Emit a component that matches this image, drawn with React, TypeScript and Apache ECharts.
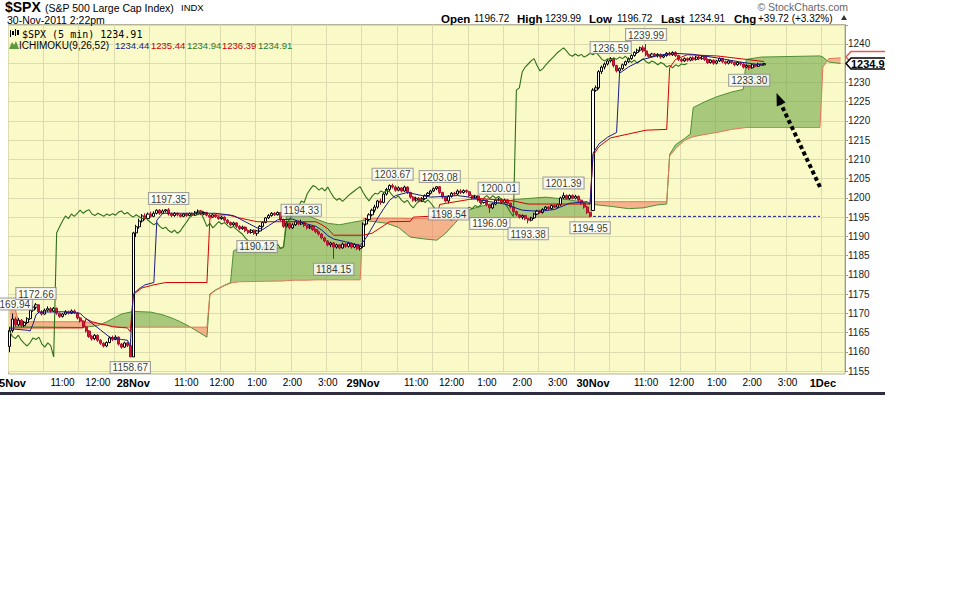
import React, { useEffect, useRef } from 'react';
import * as echarts from 'echarts';

// ---------- data ----------
const days = ['25Nov', '28Nov', '29Nov', '30Nov', '1Dec'];
const dayBars = [42, 78, 78, 78, 8];
const hourLabels = [11, 12, 13, 14, 15];

// [open, close, low, high]
const bars25Nov = [
  [1161.4,1165.5,1159.9,1166.4],[1165.5,1168.5,1165.0,1169.94],[1168.5,1167.0,1166.5,1169.0],[1167.0,1168.2,1166.6,1168.8],
  [1168.2,1166.8,1166.3,1168.5],[1166.8,1167.6,1166.4,1168.0],[1167.6,1168.6,1167.2,1169.0],[1168.6,1170.8,1168.3,1171.0],
  [1170.8,1171.6,1170.4,1172.0],[1171.6,1172.2,1171.0,1172.66],[1172.2,1170.4,1170.0,1172.3],[1170.4,1169.8,1169.4,1170.8],
  [1169.8,1170.8,1169.6,1171.2],[1170.8,1171.2,1170.4,1171.8],[1171.2,1170.6,1170.2,1171.6],[1170.6,1171.3,1170.3,1171.6],
  [1171.3,1170.0,1169.6,1171.5],[1170.0,1169.2,1168.8,1170.2],[1169.2,1169.8,1168.9,1170.1],[1169.8,1170.4,1169.5,1170.8],
  [1170.4,1170.0,1169.7,1170.7],[1170.0,1170.6,1169.8,1171.0],[1170.6,1170.1,1169.8,1171.0],[1170.1,1168.8,1168.4,1170.3],
  [1168.8,1168.0,1167.6,1169.1],[1168.0,1166.5,1166.2,1168.2],[1166.5,1165.4,1165.0,1166.8],[1165.4,1164.0,1163.6,1165.6],
  [1164.0,1163.4,1162.9,1164.3],[1163.4,1164.3,1163.0,1164.6],[1164.3,1163.0,1162.6,1164.5],[1163.0,1162.2,1161.8,1163.3],
  [1162.2,1161.5,1161.1,1162.5],[1161.5,1162.4,1161.2,1162.7],[1162.4,1163.6,1162.2,1164.0],[1163.6,1163.2,1162.8,1164.2],
  [1163.2,1163.8,1163.0,1164.3],[1163.8,1162.0,1161.6,1164.0],[1162.0,1161.2,1160.8,1162.3],[1161.2,1162.3,1161.0,1162.6],
  [1162.3,1161.6,1161.2,1162.6],[1161.6,1158.67,1158.67,1161.8],
];
const bars28Nov = [
  [1158.67,1190.9,1158.67,1191.2],[1190.9,1192.5,1189.8,1193.0],[1192.5,1194.0,1192.0,1194.6],[1194.0,1195.3,1193.6,1195.8],
  [1195.3,1194.6,1194.2,1196.0],[1194.6,1195.8,1194.4,1196.2],[1195.8,1195.2,1194.9,1196.4],[1195.2,1196.0,1195.0,1196.5],
  [1196.0,1196.8,1195.7,1197.0],[1196.8,1196.0,1195.6,1197.1],[1196.0,1196.6,1195.8,1197.0],[1196.6,1196.9,1196.2,1197.1],
  [1196.9,1195.8,1195.4,1197.35],[1195.8,1195.4,1195.0,1196.2],[1195.4,1196.0,1195.1,1196.3],[1196.0,1195.6,1195.2,1196.2],
  [1195.6,1195.2,1194.9,1195.9],[1195.2,1195.8,1195.0,1196.0],[1195.8,1195.4,1195.1,1196.1],[1195.4,1195.9,1195.2,1196.2],
  [1195.9,1195.5,1195.2,1196.2],[1195.5,1196.3,1195.3,1196.6],[1196.3,1196.6,1196.0,1197.0],[1196.6,1195.8,1195.5,1196.9],
  [1195.8,1196.2,1195.5,1196.5],[1196.2,1195.5,1195.2,1196.4],[1195.5,1195.0,1194.7,1195.8],[1195.0,1195.6,1194.8,1195.9],
  [1195.6,1195.1,1194.8,1195.9],[1195.1,1194.6,1194.3,1195.4],[1194.6,1195.0,1194.3,1195.3],[1195.0,1194.2,1193.8,1195.2],
  [1194.2,1193.6,1193.2,1194.5],[1193.6,1193.0,1192.6,1193.9],[1193.0,1193.5,1192.7,1193.8],[1193.5,1192.6,1192.2,1193.7],
  [1192.6,1192.0,1191.6,1192.9],[1192.0,1192.4,1191.7,1192.8],[1192.4,1191.5,1191.1,1192.6],[1191.5,1191.0,1190.6,1191.8],
  [1191.0,1191.6,1190.7,1191.9],[1191.6,1190.8,1190.4,1191.8],[1190.8,1191.4,1190.12,1191.6],[1191.4,1192.6,1191.2,1192.9],
  [1192.6,1193.6,1192.3,1193.9],[1193.6,1194.8,1193.4,1195.0],[1194.8,1195.4,1194.5,1195.8],[1195.4,1196.0,1195.1,1196.3],
  [1196.0,1195.6,1195.3,1196.3],[1195.6,1196.2,1195.4,1196.5],[1196.2,1194.4,1194.0,1196.3],[1194.4,1192.6,1192.2,1194.6],
  [1192.6,1193.4,1192.2,1193.8],[1193.4,1192.2,1191.8,1193.6],[1192.2,1193.0,1191.9,1193.4],[1193.0,1193.8,1192.7,1194.1],
  [1193.8,1193.2,1192.9,1194.1],[1193.2,1193.6,1192.9,1194.33],[1193.6,1192.8,1192.4,1193.8],[1192.8,1192.2,1191.8,1193.0],
  [1192.2,1192.6,1191.9,1193.0],[1192.6,1191.8,1191.4,1192.8],[1191.8,1191.2,1190.8,1192.0],[1191.2,1190.6,1190.2,1191.5],
  [1190.6,1189.6,1189.2,1190.8],[1189.6,1188.8,1188.4,1189.9],[1188.8,1187.8,1187.4,1189.0],[1187.8,1188.3,1187.2,1188.6],
  [1188.3,1187.2,1184.15,1188.5],[1187.2,1187.8,1186.8,1188.1],[1187.8,1187.0,1186.6,1188.0],[1187.0,1188.0,1186.8,1188.4],
  [1188.0,1187.4,1187.0,1188.3],[1187.4,1188.2,1187.1,1188.6],[1188.2,1187.2,1186.8,1188.4],[1187.2,1187.9,1186.9,1188.2],
  [1187.9,1186.8,1186.4,1188.0],[1186.8,1187.4,1186.3,1187.8],
];
const bars29Nov = [
  [1187.4,1193.2,1187.0,1193.6],[1193.2,1194.4,1192.8,1194.8],[1194.4,1195.6,1194.0,1196.0],[1195.6,1196.8,1195.2,1197.2],
  [1196.8,1197.6,1196.2,1198.2],[1197.6,1199.2,1197.2,1199.5],[1199.2,1198.8,1198.2,1199.8],[1198.8,1201.0,1198.6,1201.4],
  [1201.0,1202.2,1200.6,1202.6],[1202.2,1203.2,1201.8,1203.5],[1203.2,1202.8,1202.4,1203.67],[1202.8,1202.0,1201.6,1203.2],
  [1202.0,1202.6,1201.7,1203.0],[1202.6,1201.8,1201.4,1202.8],[1201.8,1202.8,1201.5,1203.2],[1202.8,1201.4,1201.0,1203.0],
  [1201.4,1200.2,1199.8,1201.6],[1200.2,1199.4,1199.0,1200.5],[1199.4,1199.9,1199.0,1200.3],[1199.9,1199.1,1198.8,1200.2],
  [1199.1,1199.8,1198.9,1200.2],[1199.8,1200.6,1199.5,1200.9],[1200.6,1201.2,1200.3,1201.5],[1201.2,1201.8,1200.9,1202.1],
  [1201.8,1202.4,1201.5,1202.7],[1202.4,1202.9,1202.0,1203.0],[1202.9,1201.4,1201.0,1203.08],[1201.4,1200.2,1199.8,1201.6],
  [1200.2,1199.2,1198.8,1200.4],[1199.2,1200.4,1198.54,1200.7],[1200.4,1201.2,1200.1,1201.5],[1201.2,1201.0,1200.6,1201.6],
  [1201.0,1201.8,1200.7,1202.2],[1201.8,1201.4,1201.0,1202.3],[1201.4,1201.9,1201.1,1202.2],[1201.9,1201.6,1201.2,1202.2],
  [1201.6,1200.6,1200.2,1201.8],[1200.6,1200.0,1199.6,1200.9],[1200.0,1200.5,1199.7,1200.8],[1200.5,1199.4,1199.0,1200.7],
  [1199.4,1198.8,1198.4,1199.7],[1198.8,1199.4,1198.5,1199.7],[1199.4,1198.2,1197.8,1199.6],[1198.2,1197.4,1196.09,1198.4],
  [1197.4,1198.4,1197.1,1198.7],[1198.4,1199.4,1198.1,1199.7],[1199.4,1199.6,1199.1,1200.01],[1199.6,1198.8,1198.4,1199.9],
  [1198.8,1199.5,1198.5,1199.8],[1199.5,1198.6,1198.2,1199.7],[1198.6,1197.6,1197.2,1198.8],[1197.6,1196.4,1196.0,1197.8],
  [1196.4,1195.6,1195.2,1196.7],[1195.6,1195.0,1194.6,1195.8],[1195.0,1195.4,1194.4,1195.7],[1195.4,1194.6,1194.2,1195.6],
  [1194.6,1194.2,1193.38,1194.8],[1194.2,1194.8,1193.9,1195.1],[1194.8,1195.8,1194.5,1196.1],[1195.8,1196.6,1195.5,1196.9],
  [1196.6,1196.2,1195.9,1196.9],[1196.2,1197.0,1195.9,1197.3],[1197.0,1197.6,1196.7,1197.9],[1197.6,1197.2,1196.9,1197.9],
  [1197.2,1198.0,1196.9,1198.3],[1198.0,1197.6,1197.3,1198.3],[1197.6,1198.2,1197.3,1198.5],[1198.2,1200.0,1197.9,1200.3],
  [1200.0,1200.6,1199.6,1201.39],[1200.6,1199.8,1199.5,1200.9],[1199.8,1200.6,1199.5,1200.9],[1200.6,1199.9,1199.6,1200.9],
  [1199.9,1200.4,1199.6,1200.8],[1200.4,1199.4,1199.0,1200.6],[1199.4,1198.6,1198.2,1199.6],[1198.6,1197.6,1197.2,1198.8],
  [1197.6,1196.2,1195.8,1197.9],[1196.2,1195.19,1194.95,1196.4],
];
const bars30Nov = [
  [1196.72,1228.0,1196.72,1228.5],[1228.0,1228.6,1227.6,1229.2],[1228.6,1232.8,1228.2,1233.2],[1232.8,1234.0,1232.2,1234.4],
  [1234.0,1234.8,1233.4,1235.2],[1234.8,1235.6,1234.4,1236.0],[1235.6,1236.2,1235.2,1236.59],[1236.2,1234.4,1233.9,1236.4],
  [1234.4,1233.0,1232.6,1234.6],[1233.0,1233.6,1232.4,1233.9],[1233.6,1234.6,1233.3,1234.9],[1234.6,1235.4,1234.3,1235.7],
  [1235.4,1236.2,1235.1,1236.5],[1236.2,1237.0,1235.9,1237.3],[1237.0,1237.8,1236.7,1238.1],[1237.8,1238.4,1237.4,1238.8],
  [1238.4,1239.0,1238.0,1239.3],[1239.0,1238.2,1237.8,1239.6],[1238.2,1237.2,1236.8,1239.99],[1237.2,1236.8,1236.4,1237.5],
  [1236.8,1237.4,1236.5,1237.7],[1237.4,1236.9,1236.6,1237.7],[1236.9,1237.3,1236.5,1237.6],[1237.3,1236.6,1236.2,1237.5],
  [1236.6,1237.0,1236.3,1237.3],[1237.0,1237.6,1236.7,1237.9],[1237.6,1237.2,1236.9,1238.0],[1237.2,1237.8,1236.9,1238.1],
  [1237.8,1237.0,1236.6,1238.1],[1237.0,1236.0,1235.6,1237.2],[1236.0,1235.6,1235.2,1236.3],[1235.6,1236.2,1235.3,1236.5],
  [1236.2,1235.8,1235.4,1236.5],[1235.8,1236.4,1235.5,1236.7],[1236.4,1236.0,1235.6,1236.8],[1236.0,1236.6,1235.7,1236.9],
  [1236.6,1236.2,1235.8,1236.9],[1236.2,1236.8,1235.9,1237.1],[1236.8,1236.0,1235.6,1237.0],[1236.0,1235.2,1234.8,1236.2],
  [1235.2,1235.8,1234.9,1236.0],[1235.8,1235.0,1234.6,1236.0],[1235.0,1235.6,1234.7,1235.9],[1235.6,1236.2,1235.3,1236.5],
  [1236.2,1235.4,1235.0,1236.4],[1235.4,1235.0,1234.6,1235.7],[1235.0,1235.6,1234.7,1235.9],[1235.6,1235.2,1234.8,1235.8],
  [1235.2,1234.6,1234.2,1235.4],[1234.6,1235.2,1234.3,1235.5],[1235.2,1234.8,1234.4,1235.4],[1234.8,1234.0,1233.6,1235.0],
  [1234.0,1234.4,1233.7,1234.7],[1234.4,1233.8,1233.30,1234.6],[1233.8,1234.6,1233.6,1234.9],[1234.6,1234.2,1233.9,1234.9],
  [1234.2,1234.8,1234.0,1235.1],[1234.8,1234.6,1234.3,1235.0],[1234.6,1234.91,1234.4,1235.1],
];
const dayData = [bars25Nov, bars28Nov, bars29Nov, bars30Nov, []];

// Ichimoku lines: [bar index, value]
const tenkan = [
  [0,1166.0],[6,1165.6],[7,1165.4],[8,1167.2],[9,1169.6],[10,1170.3],[18,1170.4],[24,1170.0],[25,1169.2],[28,1167.4],
  [31,1165.6],[34,1163.8],[38,1163.2],[40,1163.0],[41,1161.6],[42,1175.0],[44,1176.4],[46,1177.4],[49,1178.0],[50,1194.2],
  [52,1196.0],[70,1196.0],[76,1195.4],[80,1193.8],[84,1192.2],[86,1191.8],[88,1192.8],[91,1194.3],[96,1194.5],[100,1193.4],
  [104,1192.6],[106,1191.6],[108,1190.2],[110,1189.3],[114,1188.6],[119,1187.6],[121,1189.6],[123,1192.2],[125,1194.8],
  [127,1197.2],[129,1199.4],[131,1200.6],[135,1201.4],[140,1200.6],[143,1200.2],[148,1200.4],[152,1200.6],[156,1200.2],
  [159,1199.6],[163,1199.0],[168,1198.4],[171,1197.6],[174,1196.8],[180,1196.5],[185,1197.0],[190,1198.6],[196,1199.0],
  [197,1198.4],[198,1211.6],[200,1214.0],[203,1215.8],[206,1217.0],[207,1232.4],[210,1234.0],[215,1236.0],[220,1237.0],
  [225,1237.6],[232,1237.3],[240,1236.4],[248,1235.3],[256,1234.44],
];
const kijun = [
  [0,1166.2],[25,1166.2],[26,1168.6],[28,1167.8],[31,1167.2],[33,1166.9],[35,1166.5],[38,1166.3],[40,1166.2],[41,1165.2],
  [42,1174.9],[45,1176.6],[49,1177.4],[53,1178.0],[67,1178.0],[68,1194.6],[70,1195.5],[74,1195.6],[78,1194.8],[84,1193.8],
  [104,1193.8],[106,1193.0],[108,1192.0],[110,1190.3],[120,1190.3],[123,1190.8],[125,1191.8],[127,1192.8],[129,1193.8],
  [136,1193.9],[137,1195.0],[145,1195.3],[146,1198.3],[156,1199.6],[160,1199.8],[171,1199.2],[176,1198.4],[197,1198.4],
  [198,1211.0],[200,1213.3],[202,1214.5],[204,1215.6],[210,1216.6],[216,1217.6],[223,1217.8],[224,1233.8],[226,1236.0],
  [230,1237.2],[240,1236.9],[250,1236.0],[256,1235.44],
];
// [bar index, senkou span A, senkou span B]
const cloud = [
  [0,1166.5,1171.0],[2,1166.5,1171.0],[3,1166.5,1167.8],[25,1166.3,1167.8],[30,1166.8,1167.4],[33,1167.8,1167.0],
  [36,1169.0,1166.5],[38,1169.8,1166.4],[42,1170.5,1166.4],[48,1170.3,1166.4],[52,1169.6,1166.4],[55,1168.8,1166.4],
  [58,1167.8,1166.4],[61,1166.6,1166.4],[64,1165.2,1166.4],[67,1163.8,1166.4],[68,1175.0,1174.8],[70,1176.1,1176.0],
  [73,1177.3,1177.2],[75,1178.0,1177.8],[76,1186.2,1178.0],[78,1187.0,1178.2],[93,1187.0,1178.4],[94,1195.3,1178.5],
  [97,1195.7,1178.6],[101,1195.5,1178.6],[104,1194.5,1178.7],[108,1193.4,1178.7],[112,1193.0,1178.7],[116,1193.6,1178.7],
  [119,1194.0,1178.7],[120,1194.1,1194.6],[124,1193.8,1194.7],[128,1193.4,1194.7],[132,1192.3,1194.7],[136,1189.8,1194.6],
  [141,1189.3,1194.6],[145,1189.0,1194.6],[148,1190.8,1194.6],[151,1193.3,1194.6],[153,1195.0,1194.6],[155,1196.6,1194.7],
  [158,1197.4,1194.7],[163,1198.4,1194.8],[172,1199.6,1194.9],[182,1200.2,1195.0],[189,1199.6,1195.0],[197,1198.6,1195.0],
  [198,1198.3,1199.0],[204,1197.8,1199.0],[210,1197.2,1199.0],[215,1197.4,1199.0],[220,1198.2,1199.0],[223,1198.4,1199.0],
  [224,1211.3,1210.9],[226,1213.8,1212.8],[229,1215.4,1214.9],[231,1216.6,1215.6],[232,1223.5,1215.9],[236,1225.0,1216.5],
  [240,1226.3,1217.0],[245,1227.5,1217.8],[249,1228.2,1218.2],[250,1236.0,1218.3],[255,1236.6,1218.3],[275,1236.9,1218.3],
  [276,1236.6,1234.0],[278,1235.3,1236.2],[282,1234.94,1236.39],
];
const prevClose = 1195.19;
const prevCloseSpan = [198, 275];
const highMarks = [[1,1169.94],[9,1172.66],[54,1197.35],[99,1194.33],[130,1203.67],[146,1203.08],[166,1200.01],[188,1201.39],[204,1236.59],[216,1239.99]];
const lowMarks = [[41,1158.67],[84,1190.12],[110,1184.15],[149,1198.54],[163,1196.09],[176,1193.38],[197,1194.95],[251,1233.30]];
const legendValues = ['1234.44', '1235.44', '1234.94', '1236.39', '1234.91'];
const lastPrice = 1234.91;
const lastSpanB = 1236.39;
const hiddenTickLabels = [1235, 1245]; // covered by the price tag / top edge
const headerStats = [['Open', '1196.72'], ['High', '1239.99'], ['Low', '1196.72'], ['Last', '1234.91'], ['Chg', '+39.72 (+3.32%)']];

// ---------- derived tables ----------
const categories: string[] = [];
const labelText: Record<number, string> = {};
const dayStart: number[] = [];
{
  let k = 0;
  days.forEach((d, di) => {
    dayStart.push(k);
    for (let b = 0; b < dayBars[di]; b++) {
      const mins = 9 * 60 + 30 + b * 5;
      const h = Math.floor(mins / 60);
      const m = mins % 60;
      categories.push(`${d} ${h}:${String(m).padStart(2, '0')}`);
      if (b === 0) labelText[k] = `{d|${d}}`;
      else if (m === 0 && hourLabels.includes(h)) labelText[k] = `{t|${h > 12 ? h - 12 : h}:00}`;
      k++;
    }
  });
}
const candleData: any[] = categories.map(() => '-');
dayData.forEach((bars, di) => bars.forEach((b, j) => { candleData[dayStart[di] + j] = b; }));
const closes: number[] = [];
dayData.forEach((bars) => bars.forEach((b) => closes.push(b[1])));
const chikou = closes.slice(26).map((c, i) => [i, c]);

const F = '"Liberation Sans", Arial, sans-serif';
const BG = '#fafac8';
const GRID = '#dcdcb0';
const GREEN_FILL = 'rgba(100,160,60,0.55)';
const SALMON_FILL = 'rgba(240,120,90,0.55)';

const txt = (x: number, y: number, text: string, font: string, fill = '#000', align = 'left', z = 60) => ({
  type: 'text', x, y, z, silent: true,
  style: { text, font, fill, textAlign: align, align, textVerticalAlign: 'middle', verticalAlign: 'middle' },
});

const headerX = [[441, 474], [517, 545], [589, 617], [661, 689], [734, 758]];

function baseGraphic(): any[] {
  const g: any[] = [
    { type: 'rect', z: -10, silent: true, shape: { x: 8.5, y: 24.5, width: 836.5, height: 349.5 }, style: { fill: BG, stroke: '#b4b49a', lineWidth: 1 } },
    { type: 'rect', z: 50, silent: true, shape: { x: 0, y: 392, width: 885, height: 3 }, style: { fill: '#2e2e40' } },
    txt(5, 6.5, '$SPX', `bold 14px ${F}`),
    txt(45, 7.5, '(S&P 500 Large Cap Index)', `10.5px ${F}`),
    txt(181, 7.5, 'INDX', `9.5px ${F}`),
    txt(7, 20, '30-Nov-2011 2:22pm', `10.5px ${F}`),
    txt(848, 6.5, '© StockCharts.com', `10.5px ${F}`, '#666', 'right'),
    { type: 'polygon', z: 60, silent: true, shape: { points: [[841, 20], [844, 15], [847, 20]] }, style: { fill: '#333' } },
    // legend rows
    { type: 'rect', z: 60, silent: true, shape: { x: 10, y: 30, width: 1, height: 7 }, style: { fill: '#000' } },
    { type: 'rect', z: 60, silent: true, shape: { x: 12, y: 31, width: 2, height: 4 }, style: { fill: '#000' } },
    { type: 'rect', z: 60, silent: true, shape: { x: 15, y: 29, width: 1, height: 7 }, style: { fill: '#000' } },
    { type: 'rect', z: 60, silent: true, shape: { x: 17, y: 30, width: 2, height: 5 }, style: { fill: '#000' } },
    txt(22, 34, '$SPX (5 min) 1234.91', `10px "DejaVu Sans Mono", monospace`),
    { type: 'polygon', z: 60, silent: true, shape: { points: [[9, 49], [12, 42], [14, 45], [16, 41], [19, 49]] }, style: { fill: '#5b9b3b' } },
    txt(19, 45.5, 'ICHIMOKU(9,26,52)', `10px ${F}`),
    // annotation arrow
    { type: 'line', z: 70, silent: true, shape: { x1: 820, y1: 187, x2: 780, y2: 102 }, style: { stroke: '#000', lineWidth: 4, lineDash: [4, 3] } },
    { type: 'polygon', z: 70, silent: true, shape: { points: [[776.5, 93], [785.5, 102.5], [776.8, 106.5]] }, style: { fill: '#000' } },
  ];
  const legendColors = ['#1a1a8c', '#cc0000', '#2a7a2a', '#cc0000', '#2a7a2a'];
  const legendX = [115, 151, 187, 222, 258];
  legendValues.forEach((v, i) => g.push(txt(legendX[i], 45.5, v, `9.5px ${F}`, legendColors[i])));
  headerStats.forEach(([k, v], i) => {
    g.push(txt(headerX[i][0], 18.5, k, `bold 11.5px ${F}`));
    g.push(txt(headerX[i][1], 18.5, v, `10px ${F}`));
  });
  return g;
}

function tagShape(y: number, stroke: string, z: number): any {
  return { type: 'polygon', z, silent: true, shape: { points: [[846, y], [851, y - 5.5], [892, y - 5.5], [892, y + 5.5], [851, y + 5.5]] }, style: { fill: '#fff', stroke, lineWidth: 1.5 } };
}

function renderCloud(params: any, api: any) {
  if (params.dataIndex !== 0) return null;
  const P = (x: number, y: number) => api.coord([x, y]);
  const polys: { pts: number[][]; s: number }[] = [];
  let top: number[][] = [];
  let bot: number[][] = [];
  let sign = 0;
  const flush = () => { if (top.length > 1) polys.push({ pts: [...top, ...bot.slice().reverse()], s: sign }); };
  for (let i = 0; i < cloud.length; i++) {
    const [x, a, b] = cloud[i];
    const pa = P(x, a);
    const pb = P(x, b);
    const d = a - b;
    const s = d > 0 ? 1 : d < 0 ? -1 : 0;
    if (i > 0) {
      const [x0, a0, b0] = cloud[i - 1];
      const d0 = a0 - b0;
      if (d0 * d < 0) {
        const t = d0 / (d0 - d);
        const pa0 = P(x0, a0);
        const pm = [pa0[0] + t * (pa[0] - pa0[0]), pa0[1] + t * (pa[1] - pa0[1])];
        top.push(pm); bot.push(pm);
        flush();
        top = [pm]; bot = [pm]; sign = s;
      }
    }
    if (sign === 0) sign = s;
    top.push(pa); bot.push(pb);
  }
  flush();
  return {
    type: 'group',
    children: polys.map((p) => ({ type: 'polygon', shape: { points: p.pts }, style: { fill: p.s >= 0 ? GREEN_FILL : SALMON_FILL } })),
  };
}

const markLabel = { show: true, formatter: (p: any) => p.value[1].toFixed(2), color: '#000', fontSize: 10, fontFamily: F, backgroundColor: '#fff', borderColor: '#8a8a8a', borderWidth: 1, padding: [1, 2, 0, 2] };

function buildOption(): any {
  return {
    animation: false,
    backgroundColor: '#fff',
    textStyle: { fontFamily: F },
    grid: { left: 8, right: 115, top: 24.76, bottom: 229, containLabel: false, outerBoundsMode: 'none' },
    xAxis: {
      type: 'category', data: categories, boundaryGap: true,
      axisLine: { show: false }, axisTick: { show: false },
      axisLabel: {
        interval: (i: number) => labelText[i] !== undefined,
        formatter: (_v: string, i: number) => labelText[i] ?? '',
        margin: 6,
        rich: {
          d: { fontWeight: 'bold', fontSize: 11, color: '#000', fontFamily: F },
          t: { fontSize: 10, color: '#000', fontFamily: F },
        },
      },
      splitLine: { show: true, interval: (i: number) => i % 12 === 0, lineStyle: { color: GRID, width: 1 } },
    },
    yAxis: {
      type: 'value', position: 'right', min: 1155, max: 1245, interval: 5,
      axisLine: { show: true, lineStyle: { color: '#9a9a8a' } },
      axisTick: { show: true, length: 3, lineStyle: { color: '#9a9a8a' } },
      axisLabel: { margin: 3, color: '#222', fontSize: 10, fontFamily: F, formatter: (v: number) => (hiddenTickLabels.includes(v) ? '' : String(v)) },
      splitLine: { show: true, lineStyle: { color: GRID, width: 1 } },
    },
    series: [
      { type: 'custom', name: 'cloud', renderItem: renderCloud, data: cloud, encode: { x: 0, y: [1, 2] }, z: 1, silent: true },
      { type: 'line', name: 'Senkou A', data: cloud.map((r) => [r[0], r[1]]), symbol: 'none', lineStyle: { color: '#4f8f35', width: 1 }, z: 3, silent: true },
      { type: 'line', name: 'Senkou B', data: cloud.map((r) => [r[0], r[2]]), symbol: 'none', lineStyle: { color: '#e0785a', width: 1 }, z: 3, silent: true },
      { type: 'line', name: 'prev close', data: prevCloseSpan.map((i) => [i, prevClose]), symbol: 'none', lineStyle: { color: '#1a1a8c', width: 1, type: [3, 2] }, z: 3, silent: true },
      { type: 'candlestick', name: '$SPX', data: candleData, barWidth: 2.6, z: 4, silent: true,
        itemStyle: { color: '#ffffff', color0: '#d0183c', borderColor: '#000000', borderColor0: '#b01030', borderWidth: 1 } },
      { type: 'line', name: 'Chikou', data: chikou, symbol: 'none', lineStyle: { color: '#2f7019', width: 1.1 }, z: 5, silent: true },
      { type: 'line', name: 'Kijun', data: kijun, symbol: 'none', lineStyle: { color: '#d40000', width: 1 }, z: 5, silent: true },
      { type: 'line', name: 'Tenkan', data: tenkan, symbol: 'none', lineStyle: { color: '#1a1a8c', width: 1 }, z: 5, silent: true },
      { type: 'scatter', name: 'marks', symbolSize: 0, z: 7, silent: true,
        data: [
          ...highMarks.map((m) => ({ value: m, label: { ...markLabel, position: 'top', distance: 4 } })),
          ...lowMarks.map((m) => ({ value: m, label: { ...markLabel, position: 'bottom', distance: 5 } })),
        ] },
    ],
    graphic: baseGraphic(),
  };
}

export default function App() {
  const ref = useRef<HTMLDivElement>(null);
  useEffect(() => {
    const el = ref.current;
    if (!el) return;
    const chart = echarts.init(el, undefined, { renderer: 'svg' });
    chart.setOption(buildOption());
    const yLast = chart.convertToPixel({ yAxisIndex: 0 }, lastPrice) as number;
    const yB = chart.convertToPixel({ yAxisIndex: 0 }, lastSpanB) as number;
    chart.setOption(
      {
        graphic: [
          ...baseGraphic(),
          tagShape(yB - 1, '#e06050', 80),
          tagShape(yLast, '#000', 90),
          txt(851, yLast + 0.5, lastPrice.toFixed(2), `bold 11px ${F}`, '#000', 'left', 91),
          { type: 'rect', z: 200, silent: true, shape: { x: 885, y: 0, width: 75, height: 600 }, style: { fill: '#fff' } },
        ],
      },
      { replaceMerge: ['graphic'] } as any
    );
    return () => chart.dispose();
  }, []);
  return <div ref={ref} style={{ position: 'fixed', left: 0, top: 0, width: 960, height: 600, background: '#fff' }} />;
}
